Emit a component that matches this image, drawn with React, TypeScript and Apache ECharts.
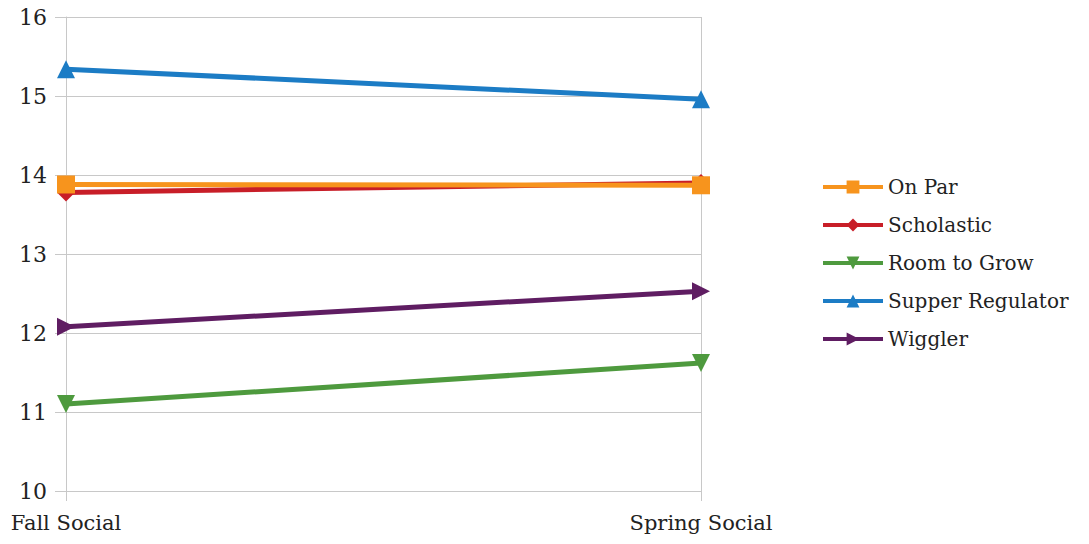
import React, { useEffect, useRef } from "react";
import * as echarts from "echarts";

const categories = ["Fall Social", "Spring Social"];
const seriesNames = ["On Par", "Scholastic", "Room to Grow", "Supper Regulator", "Wiggler"];
const onPar = [13.88, 13.87];
const scholastic = [13.78, 13.9];
const roomToGrow = [11.1, 11.62];
const supperRegulator = [15.34, 14.96];
const wiggler = [12.08, 12.53];
const yTicks = [10, 11, 12, 13, 14, 15, 16];

const colors = ["#F7941D", "#C81E28", "#4E9A3E", "#1C7CC5", "#5F1D62"];
const symbols = ["rect", "diamond", "path://M0,0 L10,0 L5,10 Z", "triangle", "path://M0,0 L10,5 L0,10 Z"];
const symbolSizes = [18, 18, 18, 18, 18];

export default function App() {
  const ref = useRef<HTMLDivElement>(null);
  useEffect(() => {
    const chart = echarts.init(ref.current!, null, { renderer: "svg" });
    const data = [onPar, scholastic, roomToGrow, supperRegulator, wiggler];
    const font = "DejaVu Serif";
    chart.setOption({
      animation: false,
      textStyle: { fontFamily: font },
      grid: { left: 66, right: 388, top: 17, bottom: 53, containLabel: false },
      legend: {
        orient: "vertical",
        left: 816,
        top: 172,
        itemWidth: 60,
        itemHeight: 16,
        itemGap: 18,
        lineStyle: { width: 4 },
        textStyle: { fontFamily: font, fontSize: 20, color: "#222" },
        data: seriesNames,
      },
      xAxis: {
        type: "category",
        data: categories,
        boundaryGap: false,
        axisLine: { show: true, lineStyle: { color: "#c8c8c8", width: 1 } },
        axisTick: { show: true, length: 10, lineStyle: { color: "#c8c8c8" } },
        splitLine: { show: true, lineStyle: { color: "#c8c8c8", width: 1 } },
        axisLabel: { fontFamily: font, fontSize: 21, color: "#222", margin: 21 },
      },
      yAxis: {
        type: "value",
        min: yTicks[0],
        max: yTicks[yTicks.length - 1],
        interval: 1,
        axisLine: { show: true, lineStyle: { color: "#c8c8c8" } },
        axisTick: { show: true, length: 11, lineStyle: { color: "#c8c8c8" } },
        splitLine: { show: true, lineStyle: { color: "#c8c8c8", width: 1 } },
        axisLabel: { fontFamily: font, fontSize: 22, color: "#222", margin: 19 },
      },
      series: seriesNames.map((name, i) => ({
        name,
        type: "line",
        data: data[i],
        symbol: symbols[i],
        symbolSize: symbolSizes[i],
        showSymbol: true,
        itemStyle: { color: colors[i] },
        lineStyle: { color: colors[i], width: 5 },
        z: 10 - i,
      })),
    });
    return () => chart.dispose();
  }, []);
  return <div ref={ref} style={{ width: 1089, height: 544, position: "absolute", left: 0, top: 0 }} />;
}
